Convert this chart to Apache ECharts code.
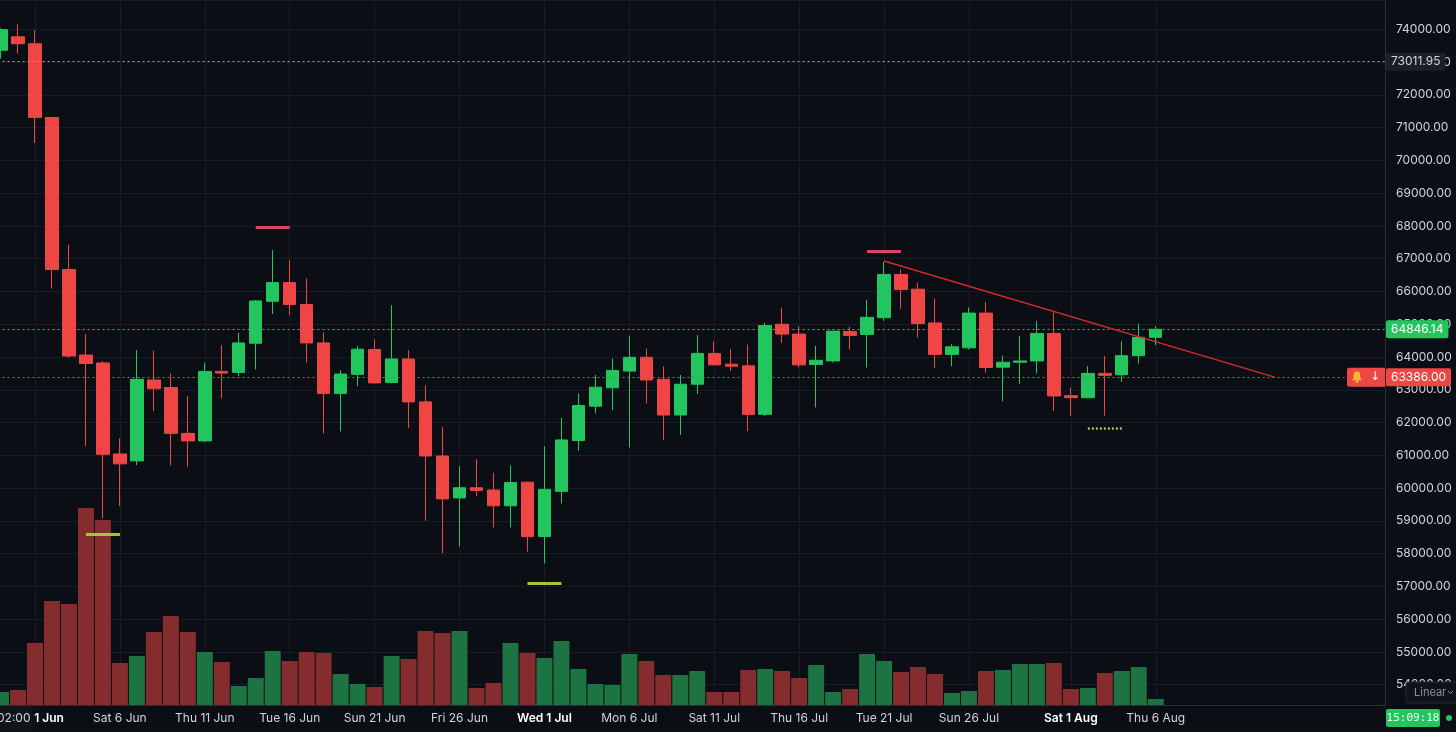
<!DOCTYPE html>
<html>
<head>
<meta charset="utf-8">
<script src="https://cdn.jsdelivr.net/npm/echarts@6.0.0/dist/echarts.min.js"></script>
<style>
  html, body { margin: 0; padding: 0; background: #0b0e14; }
  #chart { width: 1456px; height: 732px; }
</style>
</head>
<body>
<div id="chart"></div>
<script>
// daily candles, 30 May .. 6 Aug, then empty days to the right edge
const monthNames = ['Jan','Feb','Mar','Apr','May','Jun','Jul','Aug','Sep','Oct','Nov','Dec'];
const days = [];
for (let k = 0; k < 82; k++) {
  const d = new Date(Date.UTC(2026, 4, 30) + k * 86400000);
  days.push(d.getUTCDate() + ' ' + monthNames[d.getUTCMonth()]);
}

const opens = [73360, 73770, 73560, 71310, 66670, 64060, 63820, 61040, 60830, 63300,
  63070, 61670, 61440, 63560, 63530, 64420, 65700, 66270, 65600, 64430,
  62890, 63470, 64230, 63220, 63940, 62630, 60980, 59700, 60010, 59940,
  59460, 60180, 58520, 59900, 61450, 62500, 63060, 63570, 63990, 63320,
  62230, 63170, 64110, 63780, 63730, 62250, 65000, 64700, 63770, 63880,
  64780, 64690, 65200, 66520, 66070, 65040, 64080, 64280, 65340, 63690,
  63840, 63880, 64720, 62820, 62760, 63500, 63460, 64040, 64600];
const closes = [73990, 73560, 71310, 66670, 64030, 63800, 61030, 60740, 63320, 63030,
  61670, 61440, 63560, 63510, 64430, 65710, 66270, 65600, 64430, 62890,
  63480, 64240, 63210, 63940, 62630, 60980, 59670, 60010, 59930, 59460,
  60170, 58520, 59960, 61470, 62520, 63080, 63590, 63990, 63300, 62230,
  63170, 64110, 63760, 63720, 62250, 64960, 64700, 63760, 63900, 64790,
  64660, 65210, 66520, 66060, 65020, 64080, 64310, 65340, 63680, 63840,
  63880, 64720, 62810, 62760, 63500, 63440, 64040, 64600, 64846.14];
const lows = [73110, 73260, 70530, 66090, 63980, 61280, 59080, 59450, 60700, 62350,
  60690, 60650, 61400, 62740, 63420, 63620, 65310, 65280, 63830, 61660,
  61730, 63110, 63190, 63200, 61840, 59000, 58010, 58210, 59760, 58800,
  58800, 58060, 57700, 59530, 61140, 62280, 62380, 61240, 62580, 61470,
  61620, 62870, 63740, 63570, 61740, 62200, 64430, 63680, 62460, 63830,
  64230, 63680, 65100, 65460, 64590, 63670, 63720, 64230, 63520, 62650,
  63180, 63500, 62350, 62210, 62740, 62210, 63240, 63800, 64360];
const highs = [74030, 74150, 73970, 71320, 67430, 64700, 63880, 61520, 64210, 64190,
  63500, 62810, 63830, 64360, 64740, 65740, 67260, 66960, 66400, 64750,
  63600, 64340, 64540, 65580, 64210, 63130, 61870, 60670, 60880, 60470,
  60690, 60200, 61280, 62140, 62890, 63450, 63960, 64650, 64260, 63720,
  63450, 64670, 64480, 64240, 64380, 65040, 65510, 64940, 64340, 64800,
  64920, 65740, 66900, 66670, 66270, 65780, 64390, 65510, 65680, 64040,
  64640, 65090, 65360, 63070, 63720, 64030, 64480, 65020, 64940];
const volumes = [13, 15, 62, 104, 101, 197, 185, 42, 49, 73,
  89, 73, 53, 43, 19, 27, 54, 44, 53, 52,
  31, 21, 18, 49, 46, 74, 72, 74, 17, 22,
  62, 52, 47, 64, 36, 21, 20, 51, 44, 30,
  30, 34, 13, 13, 35, 36, 34, 27, 40, 13,
  16, 51, 44, 33, 38, 31, 12, 14, 34, 35,
  41, 41, 42, 16, 17, 32, 34, 38, 6];

const tickLabels = {
  '1 Jun': '1 Jun', '6 Jun': 'Sat 6 Jun', '11 Jun': 'Thu 11 Jun', '16 Jun': 'Tue 16 Jun',
  '21 Jun': 'Sun 21 Jun', '26 Jun': 'Fri 26 Jun', '1 Jul': 'Wed 1 Jul', '6 Jul': 'Mon 6 Jul',
  '11 Jul': 'Sat 11 Jul', '16 Jul': 'Thu 16 Jul', '21 Jul': 'Tue 21 Jul', '26 Jul': 'Sun 26 Jul',
  '1 Aug': 'Sat 1 Aug', '6 Aug': 'Thu 6 Aug'
};
const monthStarts = ['1 Jun', '1 Jul', '1 Aug'];

const lastPrice = 64846.14;
const prevHigh = 73011.95;
const alertPrice = 63386.00;
const trendFrom = ['21 Jul', 66930];
const trendTo = ['13 Aug', alertPrice];
// short pivot markers: [from, to, price, kind]
const pivots = [
  ['14 Jun', '16 Jun', 67970, 'high'],
  ['20 Jul', '22 Jul', 67220, 'high'],
  ['4 Jun', '6 Jun', 58600, 'low'],
  ['30 Jun', '2 Jul', 57100, 'low'],
  ['2 Aug', '4 Aug', 61830, 'pending']
];

const UP = '#22c55e', DOWN = '#f04545';
const VOL_UP = '#1d7342', VOL_DOWN = '#852c2e';
const GRID_LINE = '#181c25', AXIS_LINE = '#2a2e39', TEXT = '#d1d4dc';
const FONT = 'Inter, Roboto, sans-serif';

const candles = opens.map((o, i) => [o, closes[i], lows[i], highs[i]]);
const volData = volumes.map((v, i) => ({
  value: v,
  itemStyle: { color: closes[i] >= opens[i] ? VOL_UP : VOL_DOWN }
}));

const showTick = (idx, val) => !!tickLabels[val];

const priceLine = (value, lineColor, boxColor, textColor) => ({
  yAxis: value,
  lineStyle: { color: lineColor, type: [2, 3], width: 1 },
  label: {
    show: true, position: 'end', distance: 1,
    formatter: value.toFixed(2),
    backgroundColor: boxColor, color: textColor,
    padding: [3, 5, 3, 5], borderRadius: 2,
    fontFamily: FONT, fontSize: 12
  }
});

const pivotColor = { high: '#d9445f', low: '#9ec73d', pending: '#9ec73d' };
const pivotLines = pivots.map(p => [
  { coord: [p[0], p[2]], lineStyle: { color: pivotColor[p[3]], width: p[3] === 'pending' ? 2.5 : 3, type: p[3] === 'pending' ? [2, 2] : 'solid' } },
  { coord: [p[1], p[2]] }
]);

const chart = echarts.init(document.getElementById('chart'));
chart.setOption({
  backgroundColor: '#0b0e14',
  animation: false,
  grid: [
    { left: -7.45, right: 71, top: 0, bottom: 27, outerBoundsMode: 'none' },
    { left: -7.45, right: 71, top: 505, bottom: 27, outerBoundsMode: 'none' }
  ],
  xAxis: [
    {
      type: 'category', data: days, gridIndex: 0, boundaryGap: true,
      axisLine: { show: false }, axisTick: { show: false }, axisLabel: { show: false },
      splitLine: { show: true, interval: showTick, alignWithLabel: true, lineStyle: { color: GRID_LINE } }
    },
    {
      type: 'category', data: days, gridIndex: 1, boundaryGap: true,
      axisLine: { lineStyle: { color: AXIS_LINE } }, axisTick: { show: false },
      splitLine: { show: false },
      axisLabel: {
        interval: showTick, color: TEXT, fontSize: 12, fontFamily: FONT, margin: 7,
        hideOverlap: false,
        formatter: val => {
          const t = tickLabels[val];
          if (!t) return '';
          if (val === '1 Jun') return '{first|' + t + '}';
          if (monthStarts.includes(val)) return '{bold|' + t + '}';
          return t;
        },
        rich: {
          bold: { fontWeight: 600, color: '#ffffff', fontSize: 12, fontFamily: FONT },
          first: { fontWeight: 600, color: '#ffffff', fontSize: 12, fontFamily: FONT, padding: [0, 0, 0, 28] }
        }
      }
    }
  ],
  yAxis: [
    {
      type: 'value', gridIndex: 0, position: 'right', scale: true,
      min: 53381, max: 74894, minInterval: 1000, maxInterval: 1000,
      axisLine: { show: true, lineStyle: { color: AXIS_LINE } },
      axisTick: { show: false },
      axisLabel: {
        color: TEXT, fontSize: 12, fontFamily: FONT, margin: 11,
        showMinLabel: false, showMaxLabel: false,
        formatter: v => v.toFixed(2)
      },
      splitLine: { lineStyle: { color: GRID_LINE } }
    },
    { type: 'value', gridIndex: 1, min: 0, max: 200, show: false }
  ],
  series: [
    {
      type: 'bar', name: 'Volume', xAxisIndex: 1, yAxisIndex: 1,
      data: volData, barWidth: '94%', z: 1
    },
    {
      type: 'candlestick', name: 'Price', xAxisIndex: 0, yAxisIndex: 0,
      data: candles, barWidth: '76%', z: 3,
      itemStyle: { color: UP, color0: DOWN, borderColor: UP, borderColor0: DOWN, borderWidth: 1 },
      markLine: {
        silent: true, symbol: ['none', 'none'], animation: false,
        label: { show: false },
        data: [
          priceLine(prevHigh, '#9ea1aa', '#1c1f29', TEXT),
          priceLine(lastPrice, UP, UP, '#ffffff'),
          priceLine(alertPrice, DOWN, DOWN, '#ffffff'),
          [
            { coord: trendFrom, lineStyle: { color: '#d42a2a', width: 1.5, type: 'solid' } },
            { coord: trendTo }
          ],
          ...pivotLines
        ]
      }
    }
  ]
});

// overlays in the axis panel
const alertY = chart.convertToPixel({ yAxisIndex: 0 }, alertPrice);
const bx = 1352, by = alertY - 6;
chart.setOption({
  graphic: [
    { type: 'rect', z: 100, shape: { x: 0, y: 706, width: 33, height: 26 }, style: { fill: '#11141b' } },
    { type: 'text', z: 101, style: { text: '02:00', x: -3, y: 718, verticalAlign: 'middle', fill: TEXT, font: '12px ' + FONT } },
    { type: 'rect', z: 100, shape: { x: 1347, y: alertY - 9.5, width: 38, height: 19, r: [2, 0, 0, 2] }, style: { fill: DOWN } },
    {
      type: 'polygon', z: 101,
      shape: { points: [[bx + 5, by], [bx + 7.6, by + 1], [bx + 8.4, by + 4.4], [bx + 8.4, by + 7], [bx + 10, by + 9.2],
        [bx, by + 9.2], [bx + 1.6, by + 7], [bx + 1.6, by + 4.4], [bx + 2.4, by + 1]] },
      style: { fill: '#f5b83d' }
    },
    { type: 'circle', z: 101, shape: { cx: bx + 5, cy: by + 10.4, r: 1.5 }, style: { fill: '#f5b83d' } },
    { type: 'text', z: 101, style: { text: '↓', x: 1375, y: alertY, align: 'center', verticalAlign: 'middle', fill: '#ffffff', font: '12px "DejaVu Sans"' } },
    { type: 'rect', z: 100, shape: { x: 1406, y: 682, width: 54, height: 21, r: 3 }, style: { fill: '#0f1218', stroke: '#262a33', lineWidth: 1 } },
    { type: 'text', z: 101, style: { text: 'Linear', x: 1414, y: 692.5, verticalAlign: 'middle', fill: '#8c8f99', font: '11px ' + FONT } },
    { type: 'polyline', z: 101, shape: { points: [[1448, 691], [1450.5, 693.5], [1453, 691]] }, style: { stroke: '#8c8f99', lineWidth: 1, fill: null } },
    { type: 'rect', z: 100, shape: { x: 1386, y: 709, width: 54, height: 18, r: 2 }, style: { fill: UP } },
    { type: 'text', z: 101, style: { text: '15:09:18', x: 1413, y: 718, align: 'center', verticalAlign: 'middle', fill: '#f2fff6', font: '11px "DejaVu Sans Mono"' } },
    { type: 'circle', z: 101, shape: { cx: 1449, cy: 718, r: 3 }, style: { fill: UP } }
  ]
});
</script>
</body>
</html>
